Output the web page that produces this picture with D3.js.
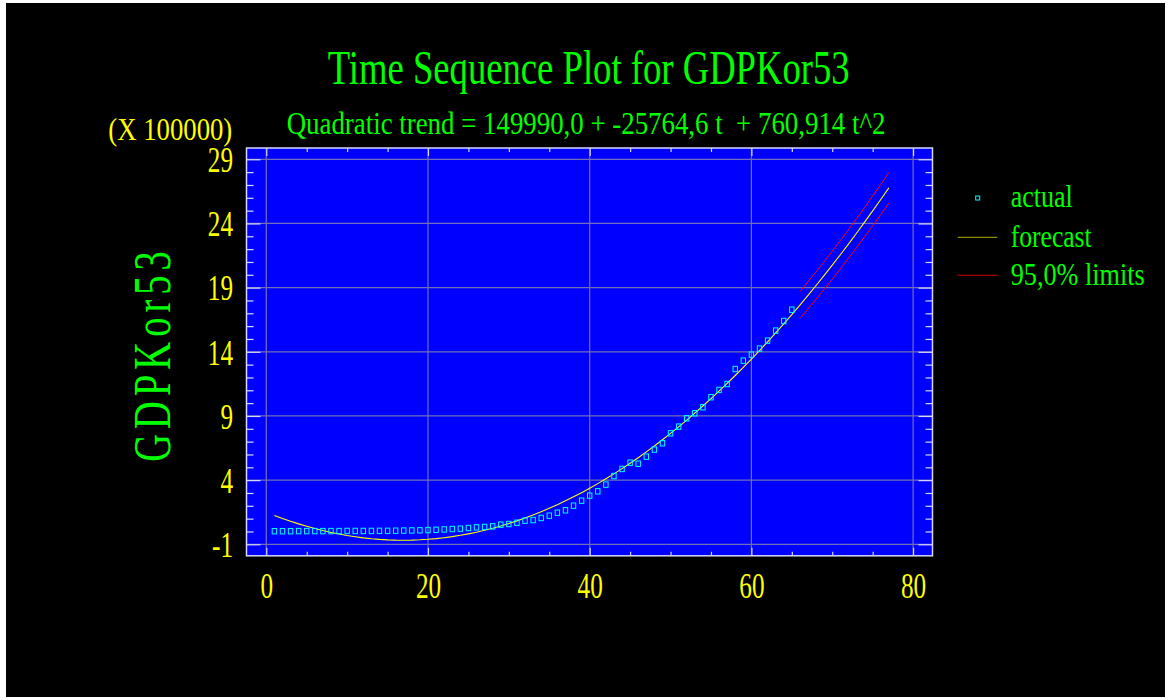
<!DOCTYPE html>
<html>
<head>
<meta charset="utf-8">
<script src="https://cdn.jsdelivr.net/npm/d3@7"></script>
<style>
  html, body { margin: 0; padding: 0; background: #ffffff; }
  svg { display: block; }
  text { font-family: "Liberation Serif", "Times New Roman", serif; white-space: pre; }
</style>
</head>
<body>
<svg id="chart" width="1167" height="698"></svg>
<script>
// Observed GDPKor53 values, t = 1..65 (units of 100000)
const actualT = d3.range(1, 66);
const actualValues = [
  0.02, 0.02, 0.02, 0.03, 0.03, 0.03, 0.03, 0.03, 0.03, 0.04,
  0.04, 0.04, 0.04, 0.05, 0.05, 0.06, 0.07, 0.08, 0.09, 0.11,
  0.13, 0.16, 0.19, 0.22, 0.27, 0.32, 0.35, 0.40, 0.53, 0.58,
  0.68, 0.84, 0.89, 1.05, 1.23, 1.46, 1.65, 2.01, 2.40, 2.79,
  3.13, 3.65, 4.32, 4.87, 5.36, 5.28, 5.83, 6.38, 6.87, 7.65,
  8.17, 8.82, 9.21, 9.68, 10.46, 11.03, 11.49, 12.66, 13.31, 13.78,
  14.25, 14.87, 15.65, 16.40, 17.28
];

// Quadratic trend values (fit for t = 1..65, forecasts for t = 66..77)
const forecastT = d3.range(1, 78);
const forecastValues = [
  1.250, 1.015, 0.795, 0.591, 0.402, 0.228, 0.069, -0.074, -0.203, -0.316,
  -0.413, -0.496, -0.564, -0.616, -0.653, -0.674, -0.681, -0.672, -0.648, -0.609,
  -0.555, -0.485, -0.401, -0.301, -0.185, -0.055, 0.091, 0.251, 0.427, 0.619,
  0.825, 1.047, 1.284, 1.536, 1.803, 2.086, 2.384, 2.697, 3.025, 3.369,
  3.727, 4.101, 4.490, 4.895, 5.314, 5.749, 6.199, 6.664, 7.145, 7.640,
  8.151, 8.677, 9.219, 9.775, 10.347, 10.934, 11.536, 12.154, 12.786, 13.434,
  14.097, 14.775, 15.469, 16.178, 16.902, 17.641, 18.395, 19.165, 19.949, 20.749,
  21.565, 22.395, 23.241, 24.102, 24.978, 25.869, 26.776
];

// 95% forecast limits, t = 66..77
const limitT = d3.range(66, 78);
const upperLimits = [18.69, 19.46, 20.24, 21.03, 21.84, 22.67, 23.51, 24.37, 25.24, 26.14, 27.04, 27.97];
const lowerLimits = [16.59, 17.34, 18.10, 18.87, 19.66, 20.47, 21.29, 22.11, 22.96, 23.82, 24.70, 25.59];

// Axis ticks
const xMajorTicks = [0, 20, 40, 60, 80];
const xMinorTicks = [5, 10, 15, 25, 30, 35, 45, 50, 55, 65, 70, 75];
const yMajorTicks = [-1, 4, 9, 14, 19, 24, 29];
const yMinorTicks = d3.range(-1, 30).filter(v => !yMajorTicks.includes(v));

const titleText = "Time Sequence Plot for GDPKor53";
const subtitleText = "Quadratic trend = 149990,0 + -25764,6 t  + 760,914 t^2";
const scaleText = "(X 100000)";
const yTitleText = "GDPKor53";
const legendLabels = ["actual", "forecast", "95,0% limits"];

const GREEN = "#00ff00";
const YELLOW = "#ffff00";

const svg = d3.select("#chart");

// black page
svg.append("rect").attr("x", 6).attr("y", 3).attr("width", 1159).attr("height", 694).attr("fill", "#000000");

// plot frame
const frame = { left: 246.5, right: 932.5, top: 148, bottom: 555.8 };
const x = d3.scaleLinear().domain([0, 80]).range([266.3, 913.1]);
const y = d3.scaleLinear().domain([-1, 29]).range([544.3, 159.3]);

svg.append("rect")
  .attr("x", frame.left).attr("y", frame.top)
  .attr("width", frame.right - frame.left).attr("height", frame.bottom - frame.top)
  .attr("fill", "#0000ff");

// grid
const grid = svg.append("g").attr("stroke", "#7070b4").attr("stroke-width", 1.2);
grid.selectAll("line.v").data(xMajorTicks).join("line")
  .attr("x1", d => x(d)).attr("x2", d => x(d))
  .attr("y1", frame.top).attr("y2", frame.bottom);
grid.selectAll("line.h").data(yMajorTicks).join("line")
  .attr("x1", frame.left).attr("x2", frame.right)
  .attr("y1", d => y(d)).attr("y2", d => y(d));

// inward ticks on all four sides
const tickColor = "#d8d8ff";
function styleTicks(g) {
  g.select(".domain").remove();
  g.selectAll(".tick line").attr("stroke", tickColor).attr("stroke-width", 1.2);
}
svg.append("g").attr("transform", `translate(${frame.left},0)`)
  .call(d3.axisLeft(y).tickValues(yMinorTicks).tickSize(-7).tickFormat(""))
  .call(styleTicks);
svg.append("g").attr("transform", `translate(${frame.right},0)`)
  .call(d3.axisRight(y).tickValues(yMinorTicks).tickSize(-7).tickFormat(""))
  .call(styleTicks);
svg.append("g").attr("transform", `translate(${frame.right},0)`)
  .call(d3.axisRight(y).tickValues(yMajorTicks).tickSize(-14).tickFormat(""))
  .call(styleTicks);
svg.append("g").attr("transform", `translate(0,${frame.top})`)
  .call(d3.axisTop(x).tickValues(xMinorTicks).tickSize(-4).tickFormat(""))
  .call(styleTicks);
svg.append("g").attr("transform", `translate(0,${frame.top})`)
  .call(d3.axisTop(x).tickValues(xMajorTicks).tickSize(-8).tickFormat(""))
  .call(styleTicks);
svg.append("g").attr("transform", `translate(0,${frame.bottom})`)
  .call(d3.axisBottom(x).tickValues(xMinorTicks).tickSize(-4).tickFormat(""))
  .call(styleTicks);

// labelled axes (plain hyphen for negatives)
const plainFormat = d => String(d);
const yAxis = svg.append("g").attr("transform", `translate(${frame.left},0)`)
  .call(d3.axisLeft(y).tickValues(yMajorTicks).tickSize(-14).tickPadding(0).tickFormat(plainFormat))
  .call(styleTicks);
yAxis.selectAll(".tick text")
  .attr("x", 0).attr("dy", "0.34em")
  .attr("transform", "translate(-13.5,0) scale(0.7,1)")
  .attr("fill", YELLOW).attr("font-size", 36)
  .attr("font-family", "Liberation Serif, serif")
  .attr("text-anchor", "end");

const xAxis = svg.append("g").attr("transform", `translate(0,${frame.bottom})`)
  .call(d3.axisBottom(x).tickValues(xMajorTicks).tickSize(-8).tickPadding(0).tickFormat(plainFormat))
  .call(styleTicks);
xAxis.selectAll(".tick text")
  .attr("y", 0).attr("dy", 0)
  .attr("transform", "translate(0,42.2) scale(0.7,1)")
  .attr("fill", YELLOW).attr("font-size", 36)
  .attr("font-family", "Liberation Serif, serif")
  .attr("text-anchor", "middle");

// frame border
svg.append("rect")
  .attr("x", frame.left).attr("y", frame.top)
  .attr("width", frame.right - frame.left).attr("height", frame.bottom - frame.top)
  .attr("fill", "none").attr("stroke", "#d8d8ff").attr("stroke-width", 1.5);

// series
const line = d3.line().x(d => x(d[0])).y(d => y(d[1]));
const plot = svg.append("g");

plot.append("path")
  .datum(limitT.map((t, i) => [t, upperLimits[i]]))
  .attr("d", line).attr("fill", "none").attr("stroke", "#ff0000").attr("stroke-width", 1);
plot.append("path")
  .datum(limitT.map((t, i) => [t, lowerLimits[i]]))
  .attr("d", line).attr("fill", "none").attr("stroke", "#ff0000").attr("stroke-width", 1);
plot.append("path")
  .datum(forecastT.map((t, i) => [t, forecastValues[i]]))
  .attr("d", line).attr("fill", "none").attr("stroke", YELLOW).attr("stroke-width", 1.1);

plot.selectAll("rect.pt")
  .data(actualT.map((t, i) => [t, actualValues[i]]))
  .join("rect")
  .attr("class", "pt")
  .attr("x", d => x(d[0]) - 2.2)
  .attr("y", d => y(d[1]) - 2.7)
  .attr("width", 4.4).attr("height", 5.4)
  .attr("fill", "none").attr("stroke", "#00ffff").attr("stroke-width", 1);

// Text condensed horizontally to a set width: measure, then scale along x
function condensedText(parent, str, px, py, size, width, fill) {
  const t = parent.append("text")
    .attr("font-size", size).attr("fill", fill).text(str);
  const natural = t.node().getComputedTextLength();
  t.attr("transform", `translate(${px},${py}) scale(${width / natural},1)`);
  return t;
}

condensedText(svg, titleText, 327.7, 84.3, 49, 522, GREEN);
condensedText(svg, subtitleText, 286.7, 134.3, 32, 599, GREEN);
condensedText(svg, scaleText, 108.3, 139.5, 31, 124, YELLOW);

// rotated axis title: narrow glyphs with wide letter spacing
svg.append("text")
  .attr("transform", "translate(170,461.7) rotate(-90) scale(0.74,1)")
  .attr("font-size", 52)
  .attr("letter-spacing", 6.8)
  .attr("fill", GREEN)
  .text(yTitleText);

// legend
const legend = svg.append("g");
legend.append("rect").attr("x", 975.7).attr("y", 196).attr("width", 4).attr("height", 4)
  .attr("fill", "none").attr("stroke", "#00ffff").attr("stroke-width", 1);
legend.append("line").attr("x1", 957.7).attr("x2", 997.3).attr("y1", 237.3).attr("y2", 237.3)
  .attr("stroke", "#b0b000").attr("stroke-width", 1);
legend.append("line").attr("x1", 957.7).attr("x2", 997.3).attr("y1", 275.3).attr("y2", 275.3)
  .attr("stroke", "#d00000").attr("stroke-width", 1);
const legendY = [206.7, 247.3, 285];
const legendLen = [62, 81, 134];
legendLabels.forEach((lbl, i) => {
  condensedText(legend, lbl, 1010.7, legendY[i], 32, legendLen[i], GREEN);
});
</script>
</body>
</html>
